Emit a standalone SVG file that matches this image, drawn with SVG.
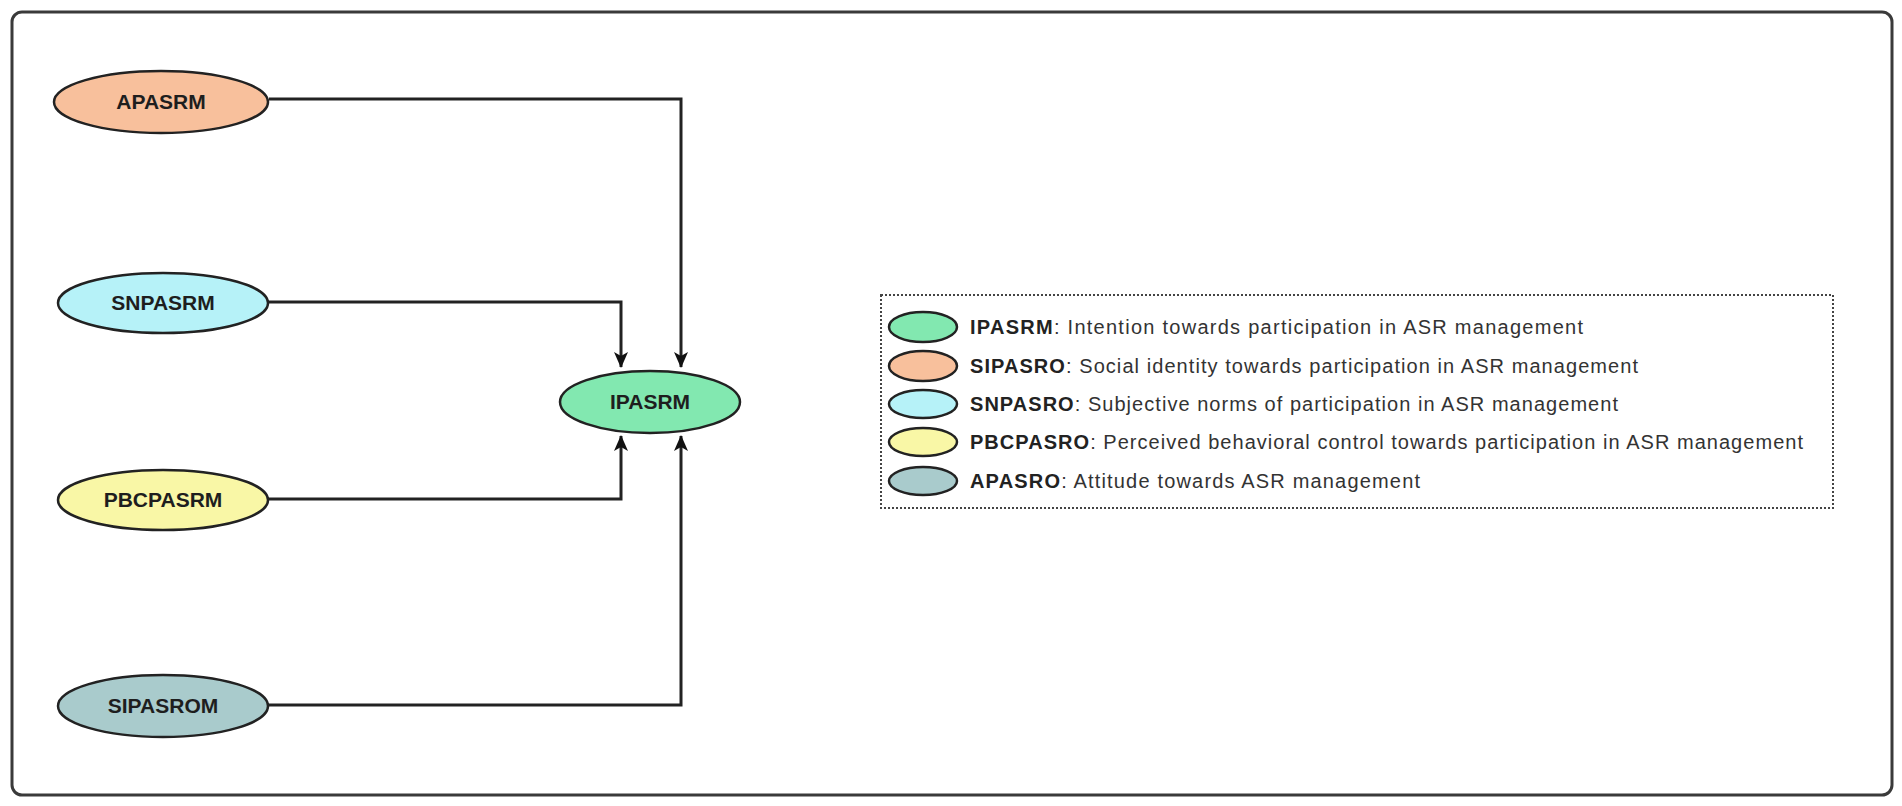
<svg xmlns="http://www.w3.org/2000/svg" width="1902" height="806" viewBox="0 0 1902 806">
<style>
.frame{fill:#fff;stroke:#3a3a3a;stroke-width:3}
.node{stroke:#222;stroke-width:2.5}
.lbl{font-family:"Liberation Sans",Arial,sans-serif;font-weight:bold;font-size:21px;fill:#1e1e1e;text-anchor:middle}
.conn{fill:none;stroke:#222;stroke-width:3}
.leg{fill:none;stroke:#444;stroke-width:2;stroke-dasharray:2 2}
.lt{font-family:"Liberation Sans",Arial,sans-serif;font-size:20px;fill:#333}
.lt tspan.b{font-weight:bold;fill:#222}
.g{fill:#82E8B0}.o{fill:#F8C09C}.c{fill:#B6F2F8}.y{fill:#F9F7A6}.t{fill:#A9CBCC}
</style>
<defs>
<marker id="arr" markerUnits="userSpaceOnUse" markerWidth="16" markerHeight="16" viewBox="0 0 16 16" refX="15" refY="8" orient="auto">
<path d="M0,1 L16,8 L0,15 L4,8 z" fill="#111"/>
</marker>
</defs>
<rect class="frame" x="12" y="12" width="1880" height="783" rx="10"/>
<g id="connectors">
<path class="conn" d="M269,99 H681 V367" marker-end="url(#arr)"/>
<path class="conn" d="M268,302 H621 V367" marker-end="url(#arr)"/>
<path class="conn" d="M268,499 H621 V436" marker-end="url(#arr)"/>
<path class="conn" d="M268,705 H681 V436" marker-end="url(#arr)"/>
</g>
<g id="APASRM"><ellipse class="node o" cx="161" cy="102" rx="107" ry="31"/><text class="lbl" x="161" y="109">APASRM</text></g>
<g id="SNPASRM"><ellipse class="node c" cx="163" cy="303" rx="105" ry="30"/><text class="lbl" x="163" y="310">SNPASRM</text></g>
<g id="PBCPASRM"><ellipse class="node y" cx="163" cy="500" rx="105" ry="30"/><text class="lbl" x="163" y="507">PBCPASRM</text></g>
<g id="SIPASROM"><ellipse class="node t" cx="163" cy="706" rx="105" ry="31"/><text class="lbl" x="163" y="713">SIPASROM</text></g>
<g id="IPASRM"><ellipse class="node g" cx="650" cy="402" rx="90" ry="31"/><text class="lbl" x="650" y="409">IPASRM</text></g>
<g id="legend">
<rect class="leg" x="881" y="295" width="952" height="213"/>
<ellipse class="node g" cx="923" cy="327" rx="34" ry="15"/>
<ellipse class="node o" cx="923" cy="366" rx="34" ry="15"/>
<ellipse class="node c" cx="923" cy="404" rx="34" ry="14"/>
<ellipse class="node y" cx="923" cy="442" rx="34" ry="14"/>
<ellipse class="node t" cx="923" cy="481" rx="34" ry="14"/>
<text class="lt" x="970" y="334" textLength="613"><tspan class="b">IPASRM</tspan>: Intention towards participation in ASR management</text>
<text class="lt" x="970" y="373" textLength="668"><tspan class="b">SIPASRO</tspan>: Social identity towards participation in ASR management</text>
<text class="lt" x="970" y="411" textLength="648"><tspan class="b">SNPASRO</tspan>: Subjective norms of participation in ASR management</text>
<text class="lt" x="970" y="449" textLength="833"><tspan class="b">PBCPASRO</tspan>: Perceived behavioral control towards participation in ASR management</text>
<text class="lt" x="970" y="488" textLength="450"><tspan class="b">APASRO</tspan>: Attitude towards ASR management</text>
</g>
</svg>
